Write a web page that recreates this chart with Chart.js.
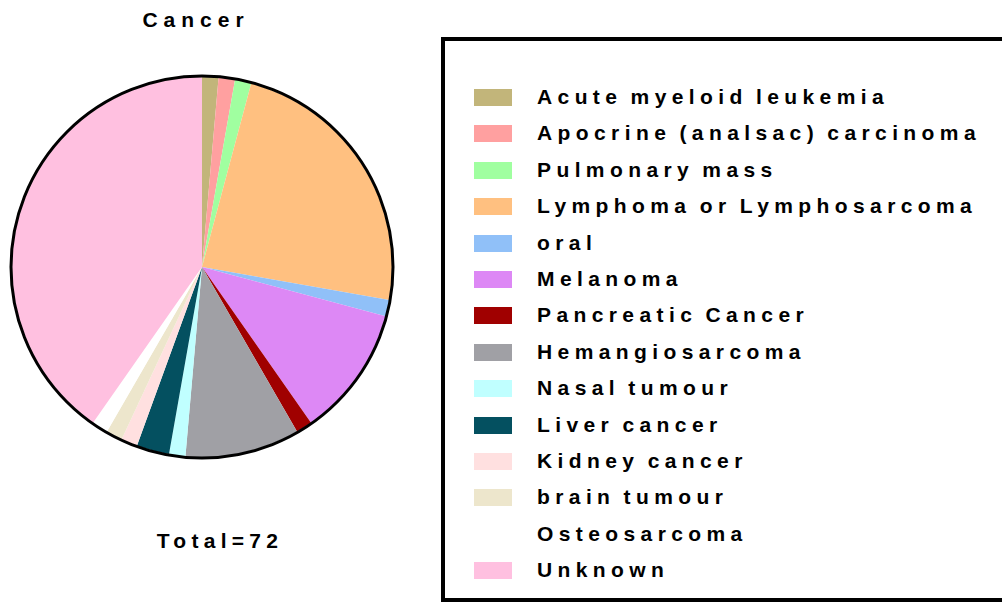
<!DOCTYPE html>
<html>
<head>
<meta charset="utf-8">
<script src="https://cdn.jsdelivr.net/npm/chart.js@4.4.0/dist/chart.umd.min.js"></script>
<style>
  body { margin: 0; width: 1002px; height: 603px; overflow: hidden; background: #fff; position: relative;
         font-family: "Liberation Sans", Arial, sans-serif; font-weight: bold; color: #000; }
  #pieWrap { position: absolute; left: 0; top: 65px; width: 404px; height: 404px; }
  .title { position: absolute; white-space: nowrap; transform: translate(-50%, -50%); font-size: 21px; }
  #legendBox { position: absolute; left: 441px; top: 37px; width: 620px; height: 557px; border: 4px solid #000; }
  .item { position: absolute; left: 0; height: 20px; }
  .sw { position: absolute; left: 29px; top: 2px; width: 38px; height: 17px; }
  .lbl { position: absolute; left: 92px; top: -2px; font-size: 21px; letter-spacing: 5.4px; word-spacing: -3px; white-space: nowrap; line-height: 24px; }
</style>
</head>
<body>
<div class="title" id="chartTitle" style="left:196px; top:20px; letter-spacing:6px;">Cancer</div>
<div id="pieWrap"><canvas id="myChart" width="404" height="404"></canvas></div>
<div class="title" id="total" style="left:220px; top:541px; letter-spacing:5.3px;"></div>
<div id="legendBox"></div>
<script>
var labels = ['Acute myeloid leukemia', 'Apocrine (analsac) carcinoma', 'Pulmonary mass',
    'Lymphoma or Lymphosarcoma', 'oral', 'Melanoma', 'Pancreatic Cancer', 'Hemangiosarcoma',
    'Nasal tumour', 'Liver cancer', 'Kidney cancer', 'brain tumour', 'Osteosarcoma', 'Unknown'];
var counts = [1, 1, 1, 17, 1, 8, 1, 7, 1, 2, 1, 1, 1, 29];
var colors = ['#C2B57A', '#FFA0A0', '#A0FFA0', '#FFC080', '#90C0F8', '#DD88F5', '#A00000',
    '#A0A0A5', '#C0FFFF', '#045060', '#FFE0E0', '#EDE6CC', '#FFFFFF', '#FFC0E0'];

var total = counts.reduce(function (a, b) { return a + b; }, 0);
document.getElementById('total').textContent = 'Total=' + total;

// legend (html, so the text stays text)
var box = document.getElementById('legendBox');
for (var i = 0; i < labels.length; i++) {
    var row = document.createElement('div');
    row.className = 'item';
    row.style.top = (46 + i * 36.4) + 'px';
    row.innerHTML = '<div class="sw" style="background:' + colors[i] + '"></div>' +
        '<div class="lbl">' + labels[i] + '</div>';
    box.appendChild(row);
}

// outer black ring round the pie
var ringPlugin = {
    id: 'ring',
    afterDatasetsDraw: function (chart) {
        var arc = chart.getDatasetMeta(0).data[0];
        var ctx = chart.ctx;
        ctx.save();
        ctx.beginPath();
        ctx.arc(arc.x, arc.y, arc.outerRadius + 1, 0, Math.PI * 2);
        ctx.lineWidth = 3;
        ctx.strokeStyle = '#000';
        ctx.stroke();
        ctx.restore();
    }
};

var ctx = document.getElementById('myChart').getContext('2d');
var myChart = new Chart(ctx, {
    type: 'pie',
    data: {
        labels: labels,
        datasets: [{
            data: counts,
            backgroundColor: colors,
            borderWidth: 0
        }]
    },
    options: {
        responsive: false,
        animation: false,
        layout: { padding: 12 },
        plugins: {
            legend: { display: false },
            tooltip: { enabled: false }
        }
    },
    plugins: [ringPlugin]
});
</script>
</body>
</html>
